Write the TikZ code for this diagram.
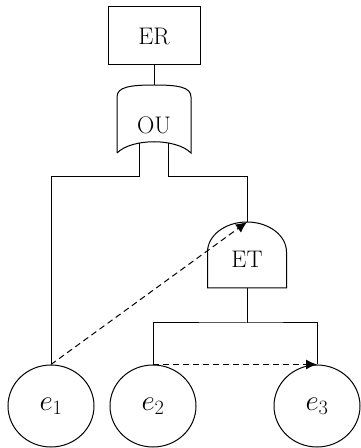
\RequirePackage{fix-cm}
\documentclass[tikz,border=0pt]{standalone}
\usetikzlibrary{arrows.meta,shapes.geometric}
\begin{document}
\begin{tikzpicture}[x=1pt,y=1pt,line width=1pt,
	gatetext/.style={font=\fontsize{24}{28}\selectfont},
	event/.style={draw,ellipse,minimum width=86pt,minimum height=82pt,inner sep=0pt,font=\fontsize{29}{32}\selectfont},
	dep/.style={dash pattern=on 6pt off 4pt,-{Latex[length=11pt,width=10pt]}}]
	\useasboundingbox (0,0) rectangle (361,448);
	% top event and OU gate
	\node[draw,minimum width=92pt,minimum height=58pt,gatetext] (er) at (154,412) {ER};
	\node[gatetext] (ou) at (154,323) {OU};
	\draw (117,295) -- (117,351) .. controls (117,361) and (130,363) .. (154,363) .. controls (178,363) and (191,361) .. (191,351) -- (191,295) .. controls (176,310) and (132,310) .. (117,295);
	\coordinate (outop) at (154,363);
	\coordinate (ou1) at (139,305);
	\coordinate (ou2) at (168,305);
	% ET gate
	\node[gatetext] (et) at (247,189) {ET};
	\draw (207.5,160) -- (207.5,196) arc[start angle=180,end angle=0,x radius=39.5pt,y radius=30pt] -- (286.5,160) -- cycle;
	\coordinate (etin) at (247,226);
	\coordinate (etout) at (247,160);
	% basic events
	\node[event] (e1) at (51,42) {$e_1$};
	\node[event] (e2) at (153,42) {$e_2$};
	\node[event] (e3) at (317,42) {$e_3$};
	% connectors
	\draw (er) -- (outop);
	\draw (ou1) -- ++(0,-34) -| (e1.north);
	\draw (ou2) -- ++(0,-34) -| (etin);
	\draw (etout) -- ++(0,-35) coordinate (bar);
	\draw (e2.north) |- (bar) -| (e3.north);
	\draw[dep] (e1.north) -- (etin);
	\draw[dep] (e2.north) -- (e3.north);
\end{tikzpicture}
\end{document}
